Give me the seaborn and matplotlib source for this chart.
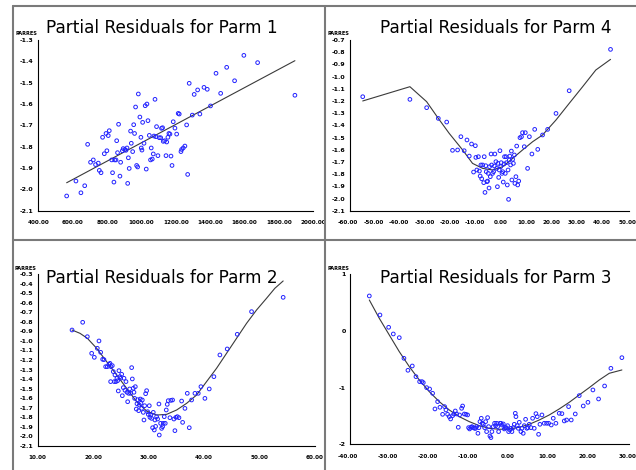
import numpy as np
import pandas as pd
import seaborn as sns
import matplotlib
matplotlib.use("Agg")
import matplotlib.pyplot as plt
from matplotlib.lines import Line2D
from matplotlib.transforms import offset_copy, ScaledTranslation
from matplotlib.ticker import AutoMinorLocator, FormatStrFormatter, FixedLocator

# ---------------- data ----------------
p1_x = [565, 619, 648, 670, 687, 704, 720, 733, 749, 755, 765, 774, 784, 794, 799, 807, 813, 827, 832, 840,
        844, 852, 856, 861, 867, 875, 879, 889, 894, 904, 910, 916, 920, 924, 929, 937, 941, 949, 955, 960,
        966, 972, 978, 982, 991, 997, 999, 1003, 1007, 1015, 1022, 1028, 1032, 1038, 1046, 1053, 1057, 1063,
        1069, 1073, 1079, 1084, 1088, 1096, 1104, 1112, 1117, 1123, 1127, 1135, 1143, 1147, 1154, 1160, 1166,
        1172, 1178, 1185, 1195, 1205, 1214, 1220, 1230, 1234, 1243, 1253, 1263, 1269, 1278, 1296, 1307, 1327,
        1340, 1364, 1383, 1402, 1434, 1461, 1496, 1542, 1596, 1676, 1893]
p1_y = [-2.031, -1.961, -2.016, -1.983, -1.789, -1.873, -1.862, -1.884, -1.877, -1.911, -1.922, -1.756, -1.833,
        -1.738, -1.819, -1.748, -1.725, -1.862, -1.922, -1.966, -1.862, -1.862, -1.772, -1.828, -1.695, -1.938,
        -1.873, -1.819, -1.809, -1.813, -1.817, -1.806, -1.972, -1.852, -1.902, -1.727, -1.784, -1.823, -1.697,
        -1.738, -1.614, -1.888, -1.895, -1.553, -1.661, -1.756, -1.806, -1.816, -1.686, -1.784, -1.608, -1.905,
        -1.600, -1.678, -1.747, -1.862, -1.806, -1.858, -1.834, -1.750, -1.578, -1.753, -1.706, -1.842, -1.758,
        -1.758, -1.714, -1.711, -1.775, -1.772, -1.842, -1.778, -1.756, -1.738, -1.741, -1.844, -1.888, -1.683,
        -1.713, -1.741, -1.644, -1.647, -1.823, -1.813, -1.806, -1.797, -1.698, -1.930, -1.503, -1.652, -1.555,
        -1.534, -1.647, -1.522, -1.531, -1.609, -1.456, -1.550, -1.428, -1.491, -1.372, -1.406, -1.559]
p1_fit_x = [565, 1893]
p1_fit_y = [-1.969, -1.397]

p4_x = [-55.1, -36.5, -29.9, -25.3, -22.0, -19.7, -17.7, -16.4, -15.1, -14.0, -13.1, -12.2, -11.4, -10.7, -10.5,
        -10.1, -9.5, -9.1, -8.8, -8.5, -8.2, -7.8, -7.4, -7.2, -6.9, -6.6, -6.4, -6.1, -5.9, -5.6, -5.3, -5.1,
        -4.8, -4.5, -4.3, -3.9, -3.5, -3.2, -3.0, -2.6, -2.3, -2.0, -1.8, -1.5, -1.3, -1.0, -0.7, -0.5, -0.2,
        0.1, 0.3, 0.6, 0.8, 1.1, 1.4, 1.6, 1.9, 2.2, 2.4, 2.7, 2.9, 3.2, 3.5, 3.7, 4.0, 4.3, 4.7, 4.9, 5.3,
        5.6, 6.0, 6.4, 6.9, 7.5, 7.9, 8.6, 9.0, 9.9, 10.6, 11.6, 12.7, 13.9, 15.8, 17.8, 21.1, 26.3, 42.6]
p4_y = [-1.165, -1.187, -1.255, -1.343, -1.373, -1.605, -1.602, -1.493, -1.608, -1.520, -1.652, -1.553, -1.783,
        -1.567, -1.663, -1.766, -1.657, -1.775, -1.816, -1.725, -1.838, -1.725, -1.870, -1.657, -1.950, -1.731,
        -1.780, -1.862, -1.857, -1.794, -1.914, -1.739, -1.821, -1.635, -1.725, -1.794, -1.780, -1.734, -1.635,
        -1.698, -1.753, -1.903, -1.712, -1.827, -1.766, -1.608, -1.739, -1.706, -1.794, -1.780, -1.865, -1.717,
        -1.657, -1.794, -1.657, -1.706, -1.889, -1.766, -2.007, -1.684, -1.652, -1.725, -1.611, -1.848, -1.679,
        -1.712, -1.643, -1.876, -1.821, -1.570, -1.889, -1.857, -1.501, -1.493, -1.460, -1.575, -1.460, -1.753,
        -1.493, -1.635, -1.433, -1.597, -1.479, -1.433, -1.302, -1.116, -0.777]
p4_fit_x = [-55.1, -36.5, -29.9, -25.3, -21.0, -15.7, -11.8, -7.8, -3.9, 0.1, 4.0, 7.9, 11.9, 15.8, 21.1,
            26.3, 31.6, 36.8, 42.6]
p4_fit_y = [-1.200, -1.083, -1.206, -1.343, -1.466, -1.602, -1.712, -1.753, -1.766, -1.739, -1.671, -1.602,
            -1.534, -1.479, -1.356, -1.220, -1.083, -0.946, -0.859]

p2_x = [16.19, 18.11, 18.95, 21.05, 19.73, 20.21, 20.75, 21.35, 21.71, 21.95, 22.25, 22.55, 22.85, 23.03, 23.21,
        23.45, 23.15, 23.63, 23.81, 23.93, 24.11, 24.29, 24.41, 24.53, 24.65, 24.83, 24.95, 25.14, 25.26, 25.44,
        25.56, 25.74, 25.92, 26.10, 26.22, 26.40, 26.58, 26.76, 26.94, 27.06, 27.24, 27.36, 27.48, 27.60, 27.78,
        27.90, 28.02, 28.20, 28.32, 28.50, 28.62, 28.74, 28.86, 29.04, 29.16, 29.28, 29.46, 29.64, 29.82, 29.94,
        30.12, 30.24, 30.36, 30.54, 30.72, 30.84, 31.02, 31.14, 31.26, 31.44, 31.62, 31.86, 31.92, 32.16, 32.34,
        32.52, 32.64, 32.82, 33.00, 33.18, 33.36, 33.54, 33.84, 34.02, 34.32, 34.56, 34.74, 34.92, 35.17, 35.47,
        35.95, 36.13, 36.55, 36.97, 37.33, 37.75, 38.35, 38.95, 39.43, 40.15, 40.93, 41.77, 42.85, 44.17, 45.98,
        48.56, 54.26]
p2_y = [-0.885, -0.804, -0.955, -1.000, -1.130, -1.172, -1.077, -1.119, -1.193, -1.196, -1.270, -1.270, -1.245,
        -1.235, -1.270, -1.259, -1.427, -1.322, -1.427, -1.357, -1.427, -1.392, -1.417, -1.525, -1.312, -1.375,
        -1.392, -1.350, -1.575, -1.490, -1.392, -1.518, -1.427, -1.539, -1.638, -1.550, -1.504, -1.550, -1.280,
        -1.399, -1.497, -1.539, -1.603, -1.480, -1.715, -1.659, -1.617, -1.732, -1.673, -1.610, -1.655, -1.708,
        -1.620, -1.750, -1.830, -1.680, -1.554, -1.522, -1.743, -1.771, -1.680, -1.802, -1.778, -1.813, -1.911,
        -1.750, -1.935, -1.830, -1.897, -1.795, -1.820, -1.662, -1.988, -1.865, -1.918, -1.900, -1.865, -1.795,
        -1.865, -1.725, -1.666, -1.627, -1.806, -1.624, -1.620, -1.820, -1.942, -1.802, -1.795, -1.806, -1.631,
        -1.855, -1.708, -1.550, -1.911, -1.620, -1.550, -1.550, -1.480, -1.603, -1.504, -1.375, -1.147, -1.084,
        -0.930, -0.692, -0.542]
p2_fit_x = [16.19, 17.63, 18.95, 20.63, 22.43, 24.23, 26.04, 27.84, 29.64, 31.44, 33.24, 35.05, 36.85, 38.65,
            40.45, 42.25, 44.05, 45.86, 47.66, 49.46, 51.26, 52.76, 54.26]
p2_fit_y = [-0.885, -0.920, -0.972, -1.077, -1.217, -1.357, -1.497, -1.638, -1.736, -1.778, -1.771, -1.725,
            -1.655, -1.568, -1.427, -1.287, -1.130, -0.972, -0.815, -0.675, -0.552, -0.447, -0.370]

p3_x = [-35.23, -32.56, -30.38, -29.21, -27.71, -26.54, -25.54, -24.45, -23.53, -22.61, -22.02, -21.69, -20.85,
        -20.10, -19.35, -18.76, -18.09, -17.51, -16.84, -16.34, -16.00, -15.59, -15.17, -14.83, -14.33, -14.00,
        -13.66, -13.33, -12.91, -12.58, -12.07, -11.82, -11.40, -10.99, -10.57, -10.32, -10.07, -9.73, -9.48,
        -9.15, -8.81, -8.56, -8.31, -7.98, -7.73, -7.47, -7.14, -6.89, -6.64, -6.30, -6.05, -5.80, -5.55, -5.30,
        -4.97, -4.72, -4.47, -4.13, -3.80, -3.55, -3.29, -3.04, -2.79, -2.46, -2.21, -1.96, -1.62, -1.37, -1.12,
        -0.87, -0.54, -0.28, 0.05, 0.30, 0.55, 0.89, 1.14, 1.39, 1.56, 1.89, 2.14, 2.39, 2.81, 3.06, 3.39, 3.65,
        3.98, 4.31, 4.57, 4.90, 5.32, 5.74, 6.15, 6.57, 6.91, 7.24, 7.58, 8.08, 8.66, 9.25, 9.75, 10.42, 10.92,
        11.59, 12.42, 13.09, 13.68, 14.26, 14.77, 15.43, 16.44, 17.44, 18.44, 19.62, 20.87, 22.29, 23.80, 25.38,
        28.14]
p3_y = [0.618, 0.282, 0.065, -0.053, -0.118, -0.482, -0.694, -0.618, -0.806, -0.894, -0.894, -0.912, -1.000,
        -1.024, -1.100, -1.376, -1.247, -1.347, -1.471, -1.335, -1.394, -1.471, -1.512, -1.553, -1.494, -1.465,
        -1.412, -1.465, -1.700, -1.482, -1.365, -1.324, -1.465, -1.471, -1.482, -1.706, -1.729, -1.700, -1.688,
        -1.706, -1.718, -1.718, -1.688, -1.806, -1.706, -1.600, -1.541, -1.629, -1.647, -1.706, -1.600, -1.776,
        -1.529, -1.688, -1.853, -1.882, -1.776, -1.688, -1.629, -1.671, -1.629, -1.688, -1.776, -1.629, -1.629,
        -1.659, -1.641, -1.729, -1.706, -1.706, -1.671, -1.776, -1.747, -1.718, -1.776, -1.706, -1.647, -1.453,
        -1.512, -1.671, -1.718, -1.612, -1.776, -1.718, -1.806, -1.671, -1.559, -1.718, -1.706, -1.647, -1.706,
        -1.541, -1.718, -1.459, -1.512, -1.824, -1.647, -1.482, -1.629, -1.629, -1.629, -1.659, -1.541, -1.629,
        -1.453, -1.459, -1.588, -1.571, -1.335, -1.571, -1.465, -1.141, -1.324, -1.259, -1.041, -1.200, -0.971,
        -0.659, -0.471]
p3_fit_x = [-35.23, -32.73, -30.22, -27.71, -25.20, -22.69, -20.18, -17.68, -15.17, -12.66, -10.15, -7.64, -5.13,
            -2.63, -0.12, 2.39, 4.90, 7.41, 9.92, 12.42, 14.93, 17.44, 19.95, 22.46, 24.97, 28.14]
p3_fit_y = [0.547, 0.224, -0.071, -0.365, -0.629, -0.865, -1.071, -1.247, -1.394, -1.512, -1.600, -1.671, -1.718,
            -1.735, -1.729, -1.700, -1.647, -1.571, -1.482, -1.376, -1.259, -1.129, -1.000, -0.865, -0.747, -0.688]

titles = ["Partial Residuals for Parm 1", "Partial Residuals for Parm 4",
          "Partial Residuals for Parm 2", "Partial Residuals for Parm 3"]
y_label = "PARRES"

p1_xticks = [400, 600, 800, 1000, 1200, 1400, 1600, 1800, 2000]
p1_yticks = [-2.1, -2.0, -1.9, -1.8, -1.7, -1.6, -1.5, -1.4, -1.3]
p4_xticks = [-60, -50, -40, -30, -20, -10, 0, 10, 20, 30, 40, 50]
p4_yticks = [-2.1, -2.0, -1.9, -1.8, -1.7, -1.6, -1.5, -1.4, -1.3, -1.2, -1.1, -1.0, -0.9, -0.8, -0.7]
p2_xticks = [10, 20, 30, 40, 50, 60]
p2_yticks = [-2.1, -2.0, -1.9, -1.8, -1.7, -1.6, -1.5, -1.4, -1.3, -1.2, -1.1, -1.0, -0.9, -0.8, -0.7,
             -0.6, -0.5, -0.4, -0.3]
p3_xticks = [-40, -30, -20, -10, 0, 10, 20, 30]
p3_yticks = [-2, -1, 0, 1]

# ---------------- style ----------------
sns.set_style("white")
plt.rcParams['font.family'] = ['DejaVu Sans']

W, H = 636, 470
fig = plt.figure(figsize=(W / 100, H / 100), dpi=100)
fig.patch.set_facecolor("white")


def frac_rect(l, t, r, b):
    return [l / W, 1 - b / H, (r - l) / W, (b - t) / H]


panels = [
    dict(rect=frac_rect(38.3, 40.0, 313.3, 210.7), x=p1_x, y=p1_y, fx=p1_fit_x, fy=p1_fit_y,
         xt=p1_xticks, yt=p1_yticks, yfmt="%.1f", ymin=5, xmin=10, title=titles[0], tpos=(161.7, 32.7),
         shift=0.0),
    dict(rect=frac_rect(350.3, 40.0, 629.3, 210.7), x=p4_x, y=p4_y, fx=p4_fit_x, fy=p4_fit_y,
         xt=p4_xticks, yt=p4_yticks, yfmt="%.1f", ymin=2, xmin=5, title=titles[1], tpos=(495.7, 32.7),
         shift=-2.0),
    dict(rect=frac_rect(37.7, 274.3, 315.0, 445.7), x=p2_x, y=p2_y, fx=p2_fit_x, fy=p2_fit_y,
         xt=p2_xticks, yt=p2_yticks, yfmt="%.1f", ymin=2, xmin=10, title=titles[2], tpos=(162.0, 283.3),
         shift=0.0),
    dict(rect=frac_rect(350.3, 274.3, 629.3, 444.3), x=p3_x, y=p3_y, fx=p3_fit_x, fy=p3_fit_y,
         xt=p3_xticks, yt=p3_yticks, yfmt="%d", ymin=10, xmin=10, title=titles[3], tpos=(496.0, 282.7),
         shift=-2.0),
]

for p in panels:
    ax = fig.add_axes(p["rect"])
    ax.set_facecolor("white")
    df = pd.DataFrame({"x": p["x"], "y": p["y"]})
    fit = pd.DataFrame({"x": p["fx"], "y": p["fy"]})
    sns.lineplot(data=fit, x="x", y="y", ax=ax, color="#3a3a3a", linewidth=0.8,
                 estimator=None, sort=False, legend=False, zorder=2)
    sns.scatterplot(data=df, x="x", y="y", ax=ax, marker="o", s=7, facecolor="none",
                    edgecolor="#2222ff", linewidth=0.7, legend=False, zorder=3)
    ax.set_xlim(p["xt"][0], p["xt"][-1])
    ax.set_ylim(p["yt"][0], p["yt"][-1])
    ax.xaxis.set_major_locator(FixedLocator(p["xt"]))
    ax.yaxis.set_major_locator(FixedLocator(p["yt"]))
    ax.xaxis.set_major_formatter(FormatStrFormatter("%.2f"))
    ax.yaxis.set_major_formatter(FormatStrFormatter(p["yfmt"]))
    ax.xaxis.set_minor_locator(AutoMinorLocator(p["xmin"]))
    ax.yaxis.set_minor_locator(AutoMinorLocator(p["ymin"]))
    ax.set_xlabel("")
    ax.set_ylabel("")
    for s in ["top", "right"]:
        ax.spines[s].set_visible(False)
    for s in ["left", "bottom"]:
        ax.spines[s].set_color("black")
        ax.spines[s].set_linewidth(0.8)
    ax.tick_params(which="major", direction="out", length=2.2, width=0.6, colors="black",
                   labelsize=4.5, pad=1.2)
    ax.tick_params(which="minor", direction="out", length=1.2, width=0.5, colors="black")
    ax.tick_params(axis="x", which="major", pad=4.5, labelsize=4.1)
    for lab in ax.get_xticklabels() + ax.get_yticklabels():
        lab.set_fontweight("bold")
    if p["shift"]:
        off = ScaledTranslation(p["shift"] / 100.0, 0, fig.dpi_scale_trans)
        for lab in ax.get_xticklabels():
            lab.set_transform(lab.get_transform() + off)
    tr = offset_copy(ax.transAxes, fig=fig, x=-1.0, y=2.6, units="points")
    ax.text(0.0, 1.0, y_label, transform=tr, ha="right", va="bottom",
            fontsize=3.6, fontweight="bold", color="black")
    tx, ty = p["tpos"]
    fig.text(tx / W, 1 - ty / H, p["title"], ha="center", va="baseline",
             fontsize=12.2, color="black")

# panel frame lines
frame_col = "#7a7a7a"
for (x0, y0, x1, y1) in [(13, 6, 636, 6), (13, 6, 13, 470), (325, 6, 325, 470), (13, 240, 636, 240)]:
    fig.add_artist(Line2D([x0 / W, x1 / W], [1 - y0 / H, 1 - y1 / H], transform=fig.transFigure,
                          color=frame_col, linewidth=1.5))

fig.savefig("out.png", dpi=100, facecolor="white")
